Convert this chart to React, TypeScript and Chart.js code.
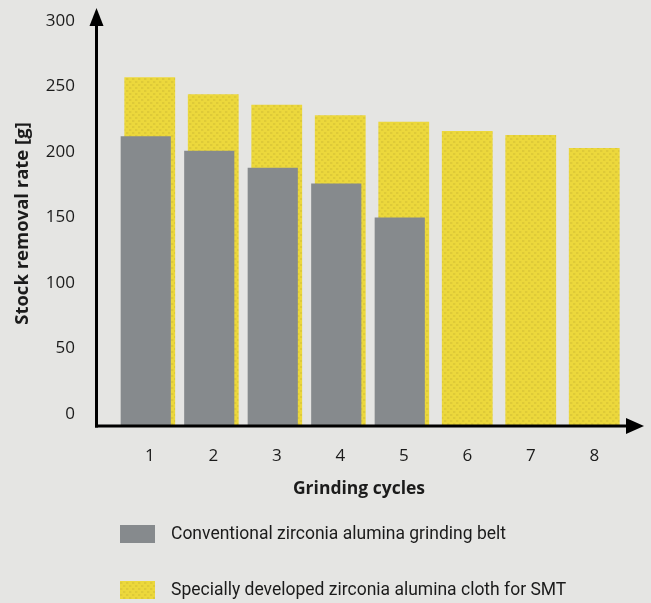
import { useEffect, useRef } from 'react';
import { Chart, registerables } from 'chart.js';

Chart.register(...registerables);

const categories = ['1', '2', '3', '4', '5', '6', '7', '8'];
const conventionalBelt = [212, 201, 188, 176, 150, null, null, null];
const smtCloth = [257, 244, 236, 228, 223, 216, 213, 203];
const yTickValues = [0, 50, 100, 150, 200, 250, 300];
const seriesLabels = [
  'Conventional zirconia alumina grinding belt',
  'Specially developed zirconia alumina cloth for SMT',
];
const yTitle = 'Stock removal rate [g]';
const xTitle = 'Grinding cycles';
const yFloor = -9.2;
const yMax = 300;

const BG = '#e5e5e3';
const GRAY = '#868a8d';
const INK = '#1b1b1b';

function makeYellowPattern(ctx: CanvasRenderingContext2D): CanvasPattern | string {
  const c = document.createElement('canvas');
  c.width = 6;
  c.height = 6;
  const g = c.getContext('2d');
  if (!g) return '#ecd83e';
  g.fillStyle = '#ecd83c';
  g.fillRect(0, 0, 6, 6);
  g.fillStyle = 'rgba(150,130,40,0.16)';
  g.fillRect(0, 0, 2, 2);
  g.fillRect(3, 3, 2, 2);
  g.fillStyle = 'rgba(150,130,40,0.06)';
  g.fillRect(2, 0, 1, 2);
  g.fillRect(5, 3, 1, 2);
  return ctx.createPattern(c, 'repeat') || '#ecd83e';
}

const shiftGrayPlugin = {
  id: 'shiftGray',
  beforeDatasetDraw(chart: any, args: any) {
    if (args.index === 0) {
      chart.ctx.save();
      chart.ctx.translate(-4, 0);
    }
  },
  afterDatasetDraw(chart: any, args: any) {
    if (args.index === 0) chart.ctx.restore();
  },
};

const decorPlugin = {
  id: 'decor',
  afterDraw(chart: any) {
    const { ctx, chartArea } = chart;
    const axisX = chartArea.left - 21.5;
    const axisY = chartArea.bottom;
    ctx.save();
    ctx.strokeStyle = '#000';
    ctx.fillStyle = '#000';
    ctx.lineWidth = 3;
    // y axis
    ctx.beginPath();
    ctx.moveTo(axisX, axisY + 1.5);
    ctx.lineTo(axisX, 24);
    ctx.stroke();
    ctx.beginPath();
    ctx.moveTo(axisX, 8);
    ctx.lineTo(axisX + 7, 26);
    ctx.lineTo(axisX - 7, 26);
    ctx.closePath();
    ctx.fill();
    // x axis
    ctx.beginPath();
    ctx.moveTo(axisX - 1.5, axisY);
    ctx.lineTo(628, axisY);
    ctx.stroke();
    ctx.beginPath();
    ctx.moveTo(644, axisY);
    ctx.lineTo(626, axisY - 8);
    ctx.lineTo(626, axisY + 8);
    ctx.closePath();
    ctx.fill();

    // x title
    ctx.fillStyle = INK;
    ctx.font = 'bold 17.5px "Open Sans"';
    ctx.textAlign = 'center';
    ctx.textBaseline = 'middle';
    ctx.fillText(xTitle, 359, 489);

    // legend
    ctx.textAlign = 'left';
    ctx.font = '17.5px Roboto';
    chart.data.datasets.forEach((ds: any, i: number) => {
      const top = 525 + i * 56;
      ctx.fillStyle = ds.backgroundColor;
      ctx.fillRect(120, top, 35, 18);
      ctx.fillStyle = INK;
      ctx.fillText(ds.label, 171, top + 10);
    });
    ctx.restore();
  },
};

export default function App() {
  const ref = useRef<HTMLCanvasElement | null>(null);

  useEffect(() => {
    const canvas = ref.current;
    if (!canvas) return;
    const ctx = canvas.getContext('2d');
    if (!ctx) return;
    const yellow = makeYellowPattern(ctx);

    const chart = new Chart(ctx, {
      type: 'bar',
      data: {
        labels: categories,
        datasets: [
          {
            label: seriesLabels[0],
            data: conventionalBelt,
            backgroundColor: GRAY,
            base: yFloor,
            barPercentage: 0.79,
            categoryPercentage: 1,
            grouped: false,
          } as any,
          {
            label: seriesLabels[1],
            data: smtCloth,
            backgroundColor: yellow,
            base: yFloor,
            barPercentage: 0.8,
            categoryPercentage: 1,
            grouped: false,
          } as any,
        ],
      },
      options: {
        animation: false,
        responsive: false,
        maintainAspectRatio: false,
        devicePixelRatio: 1,
        layout: { padding: { top: 21, right: 25, bottom: 98, left: 0 } },
        plugins: {
          legend: { display: false },
          tooltip: { enabled: false },
          title: { display: false },
        },
        scales: {
          x: {
            grid: { display: false, drawTicks: false },
            border: { display: false },
            ticks: {
              color: INK,
              font: { family: 'Open Sans', size: 17 },
              padding: 20,
            },
            afterFit: (s: any) => {
              s.height = 79;
              s.paddingLeft = 0;
              s.paddingRight = 0;
            },
          },
          y: {
            min: yFloor,
            max: yMax,
            grid: { display: false, drawTicks: false },
            border: { display: false },
            afterBuildTicks: (s: any) => {
              s.ticks = yTickValues.map((v) => ({ value: v }));
            },
            ticks: {
              color: INK,
              font: { family: 'Open Sans', size: 17 },
              padding: 43,
            },
            title: {
              display: true,
              text: yTitle,
              color: INK,
              font: { family: 'Open Sans', size: 18.5, weight: 'bold' },
              padding: { top: 12, bottom: 0 },
            },
            afterFit: (s: any) => {
              s.width = 118;
              s.paddingTop = 0;
              s.paddingBottom = 0;
            },
          },
        },
      } as any,
      plugins: [shiftGrayPlugin, decorPlugin],
    });
    return () => chart.destroy();
  }, []);

  return (
    <div
      style={{
        position: 'fixed',
        left: 0,
        top: 0,
        width: 651,
        height: 603,
        background: BG,
      }}
    >
      <canvas ref={ref} width={651} height={603} style={{ display: 'block' }} />
    </div>
  );
}
